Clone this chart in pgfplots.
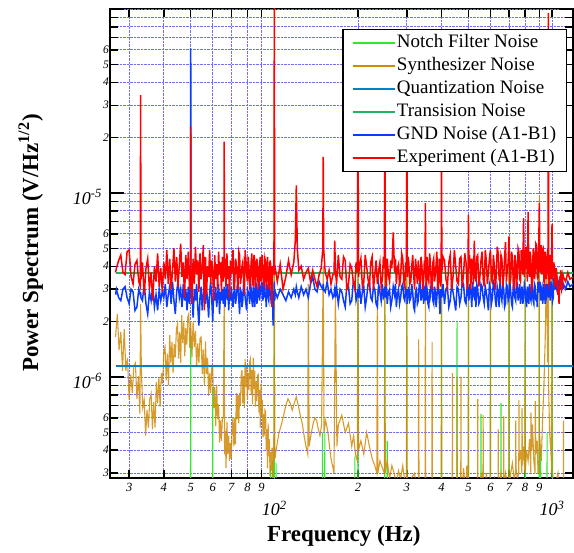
\documentclass[border=0pt]{standalone}
\usepackage{fontspec}
\setmainfont{Liberation Serif}
\usepackage{pgfplots}
\usepackage{pgfplotstable}
\pgfplotsset{compat=1.18}

\definecolor{notchc}{RGB}{50,230,50}
\definecolor{synthc}{RGB}{208,138,8}
\definecolor{quantc}{RGB}{0,130,200}
\definecolor{transc}{RGB}{30,180,100}
\definecolor{gndc}{RGB}{10,60,255}
\definecolor{expc}{RGB}{255,0,0}
\definecolor{gridc}{RGB}{110,110,255}

% values in units of 1e-6 V/Hz^(1/2)
\pgfplotstableread{
f r b
26.8 3.7 2.8
27.0 3.9 3.0
27.5 4.3 2.7
28.0 4.6 2.6
28.5 3.7 3.0
29.0 3.6 3.1
29.5 4.8 2.7
30.0 4.9 2.5
30.5 3.5 3.0
31.0 3.2 2.9
31.5 4.1 2.3
32.0 4.3 2.4
32.5 3.3 3.0
32.9 3.1 2.8
33.0 34 2.9
33.1 3.4 2.7
33.5 4.2 2.6
34.0 2.8 3.2
34.5 3.9 2.5
35.0 4.4 2.2
35.5 3.0 2.9
36.0 3.7 2.6
36.5 2.6 3.1
37.0 4.0 2.4
37.5 3.3 2.8
38.0 4.7 2.3
38.5 3.1 3.0
39.0 3.9 2.6
39.5 2.9 2.9
40.0 4.2 2.7
40.5 3.4 3.2
41.0 4.9 2.4
41.5 3.2 2.8
42.0 4.4 3.1
42.5 3.0 2.5
43.0 3.8 3.3
43.5 5.0 2.6
44.0 3.3 2.2
44.5 4.5 2.9
45.0 3.1 3.3
45.5 4.1 2.7
46.0 5.3 3.0
46.5 3.5 2.4
47.0 4.2 3.2
47.5 2.7 2.6
48.0 4.6 3.0
48.5 3.4 2.3
49.0 4.8 3.1
49.5 3.0 2.5
49.9 3.6 3.0
50.0 23 61
50.1 3.9 2.7
50.5 2.5 2.9
51.0 4.4 2.1
51.5 3.2 3.0
52.0 5.1 2.6
52.5 3.6 3.2
53.0 4.3 2.4
53.5 2.9 1.9
54.0 4.7 2.7
54.5 3.4 3.1
55.0 3.9 2.3
55.5 5.2 2.8
56.0 2.3 3.2
56.5 4.5 2.5
57.0 2.8 3.0
57.5 4.0 2.6
58.0 3.5 2.1
58.5 4.9 2.9
59.0 3.2 3.3
59.5 4.3 2.7
60.0 3.7 2.0
60.5 2.6 2.9
61.0 4.6 2.6
61.5 3.4 3.1
62.0 4.1 2.4
62.5 3.0 2.8
63.0 4.8 3.2
63.5 3.6 2.2
64.0 4.2 2.9
64.5 2.9 2.6
65.0 4.5 3.0
65.5 3.3 2.5
65.9 3.8 2.8
66.0 19 3.1
66.1 3.5 2.7
66.5 4.4 2.4
67.0 3.1 3.0
67.5 4.7 2.8
68.0 3.4 3.2
68.5 4.0 2.3
69.0 2.7 2.9
69.5 4.3 2.6
70.0 3.6 3.1
70.5 4.0 2.7
71.0 4.9 2.4
71.5 3.0 2.9
72.0 3.2 3.0
72.5 4.4 2.5
73.0 4.1 2.7
73.5 3.5 3.1
74.0 3.0 3.3
74.5 4.8 2.6
75.0 4.6 2.2
75.5 3.2 3.0
76.0 3.5 2.9
76.5 4.0 2.4
77.0 4.2 2.6
77.5 3.4 3.2
78.0 2.8 3.1
78.5 4.9 2.7
79.0 4.4 2.5
79.5 3.6 2.3
80.0 3.3 3.0
80.5 4.5 2.9
81.0 4.0 2.8
81.5 3.0 2.5
82.0 3.4 3.4
82.5 4.2 3.0
83.0 4.7 2.6
83.5 3.3 2.4
84.0 3.1 3.1
84.5 4.6 2.8
85.0 4.3 2.4
85.5 3.1 3.3
86.0 3.6 3.2
86.5 4.4 2.5
87.0 4.0 2.7
87.5 3.0 3.0
88.0 3.2 3.4
88.5 4.1 2.6
89.0 4.5 2.9
89.5 3.3 3.1
90.0 3.5 3.3
90.5 4.6 2.8
91.0 3.9 2.6
91.5 3.1 3.4
92.0 3.3 3.5
92.5 4.4 2.7
93.0 4.2 2.9
93.5 3.0 2.4
94.0 3.4 3.2
94.5 4.5 3.0
95.0 3.8 2.7
95.5 3.2 2.6
96.0 3.0 3.4
96.5 4.3 2.9
97.0 4.1 2.8
97.5 3.3 2.5
98.0 2.4 3.1
98.5 4.0 2.8
99.0 3.7 1.9
99.7 4.0 2.9
100.0 110 3.3
100.3 3.6 2.6
100.8 3.9 2.9
102.5 3.3 2.7
105.0 4.1 3.0
107.5 3.0 2.8
110.0 3.5 2.6
112.5 4.3 2.9
115.0 3.6 2.7
117.5 4.2 3.0
119.0 5.5 2.8
120.0 11 3.1
121.0 5.0 2.9
122.5 3.8 2.7
125.0 4.0 3.1
127.5 3.4 2.8
130.0 3.7 3.0
132.5 3.9 2.7
135.0 3.3 3.2
137.5 3.8 3.5
140.0 3.4 3.0
142.5 3.1 2.9
145.0 3.6 3.3
147.5 3.9 3.1
149.5 5.0 3.0
150.0 15.7 3.2
150.5 5.0 3.0
152.5 3.7 2.9
155.0 3.4 3.3
157.5 3.8 2.8
160.0 3.2 3.0
162.5 3.6 2.7
164.0 3.6 2.8
165.0 5.5 3.0
166.0 3.8 2.7
167.5 3.2 3.1
170 4.6 2.5
172.5 3.5 3.0
175 3.4 2.9
177.5 4.5 2.6
180 4.3 2.4
182.5 3.0 3.2
185 3.2 3.1
187.5 4.1 2.5
190 3.9 2.6
192.5 3.3 3.3
195 3.0 3.2
197 4.2 2.6
199 3.7 2.8
200 40 3.0
201 3.5 2.7
202.5 4.0 3.2
205 4.4 2.5
207.5 3.1 2.9
210 3.3 3.1
212.5 4.6 2.4
215 4.0 2.7
217.5 3.4 3.2
220 3.1 3.3
222.5 4.2 2.7
225 4.5 2.6
227.5 3.0 3.1
230 3.6 3.0
232.5 4.3 2.5
235 3.2 2.4
237.5 3.8 3.2
240 4.2 2.9
242.5 3.1 2.6
245 3.4 3.2
247 4.5 2.7
249 3.9 2.8
250 40 3.1
251 3.6 2.7
253 3.1 3.2
255 4.4 2.5
257.5 3.6 2.9
260 3.3 3.0
262.5 4.3 2.4
265 3.9 2.6
268 6.1 3.1
271 3.7 2.8
273 4.4 3.2
275 3.2 2.4
277.5 3.9 2.8
280 4.1 3.0
282.5 3.1 2.5
285 3.5 2.7
287.5 4.7 3.1
290 4.4 3.2
292.5 3.3 2.7
295 3.1 2.6
297 4.2 3.0
299 3.8 2.9
300 40 3.0
301 3.5 2.5
303 4.5 2.8
305 4.2 3.1
307.5 3.2 2.6
310 3.3 2.7
312.5 4.0 3.2
315 4.6 2.9
317.5 3.6 2.4
320 3.0 2.3
322.5 4.4 2.9
325 3.8 3.0
327.5 3.2 2.5
330 4.3 2.6
332.5 3.5 3.2
335 3.2 3.3
337.5 4.5 2.6
340 4.0 2.8
342.5 3.0 3.1
345 3.4 2.5
347 4.3 3.0
349 3.9 3.1
350 8.8 2.9
351 3.6 2.6
353 3.1 3.2
355 4.5 3.0
357.5 3.5 2.5
360 3.3 2.4
362.5 4.7 3.0
365 4.1 2.8
367.5 3.2 3.3
370 3.0 3.2
372.5 4.2 2.6
375 4.4 2.5
377.5 3.3 3.1
380 3.6 2.9
382.5 4.1 2.4
385 4.8 2.7
387.5 3.0 3.2
390 3.2 3.1
392.5 4.4 2.7
395 4.0 2.2
397 3.1 3.0
399 3.4 2.8
400 40 3.0
401 3.7 2.7
405 4.5 3.2
410 4.3 2.5
415 3.4 3.0
420 3.1 3.1
425 4.2 2.4
430 4.6 2.6
435 3.0 3.2
440 3.5 2.9
445 4.9 2.6
450 4.0 2.3
455 3.3 3.1
460 3.2 3.0
465 4.4 2.5
470 4.5 2.7
475 3.1 3.3
480 3.6 3.2
485 4.7 2.6
490 4.2 2.5
495 3.0 3.1
498 3.4 2.9
500 7.6 3.1
502 3.9 2.6
505 4.6 3.2
510 3.0 2.9
514 4.4 2.4
518 4.1 3.3
521 3.2 2.8
525 5.5 2.7
528 3.6 3.1
532 3.3 2.4
536 4.5 3.2
540 4.6 3.0
545 3.1 2.5
550 3.5 2.6
555 4.3 3.2
560 4.8 3.1
565 3.4 2.7
570 3.1 2.5
575 4.9 3.1
580 4.3 2.9
585 3.2 2.6
590 3.7 2.3
595 4.4 3.2
600 4.9 3.0
605 3.5 2.5
610 3.2 2.7
615 4.6 3.3
620 4.0 3.2
625 3.0 2.6
630 3.6 2.4
635 5.1 3.1
640 4.7 2.9
645 3.4 2.4
650 3.3 3.3
655 4.6 2.8
660 4.4 2.6
665 3.1 3.2
670 3.5 3.0
675 4.5 2.4
680 5.4 2.5
685 3.3 3.2
690 3.8 3.1
695 4.2 2.6
700 5.8 2.7
705 3.2 3.3
710 3.4 2.9
715 4.8 2.5
720 4.5 2.4
725 3.3 3.1
730 3.0 3.0
735 4.6 2.7
740 4.2 2.6
745 3.1 3.3
750 3.6 3.2
755 5.0 2.6
760 4.8 2.8
765 3.4 3.2
770 3.3 2.5
775 4.9 2.9
780 4.4 3.1
785 3.6 2.5
790 7.3 2.7
795 3.5 3.2
800 3.9 3.0
805 5.1 2.6
810 4.6 2.4
815 3.3 3.1
820 7.9 2.9
825 3.8 2.5
830 3.5 3.2
835 4.8 2.7
840 4.2 2.6
845 3.0 3.3
850 3.1 3.0
855 5.0 2.6
860 4.7 2.5
865 3.4 3.2
870 3.8 3.1
875 5.3 2.6
880 5.2 2.8
885 3.5 2.4
890 3.4 3.3
895 4.6 2.9
900 8.8 2.9
905 3.7 3.3
910 4.1 2.6
915 5.2 3.0
920 3.6 3.1
925 4.9 2.5
930 5.0 2.7
935 3.3 3.2
940 3.2 2.9
945 4.8 2.5
950 4.5 3.2
955 3.4 2.7
960 3.7 2.8
965 5.0 3.2
968 4.2 3.0
970 95 3.1
972 4.0 2.7
976 3.2 3.2
980 3.3 3.3
985 4.6 2.6
990 4.4 2.9
995 3.4 3.3
1000 6.8 3.0
1005 3.5 2.6
1010 3.6 2.7
1015 4.2 3.3
1020 3.9 3.2
1025 3.1 3.0
1030 3.3 3.4
1035 3.9 3.1
1040 3.7 3.0
1045 3.2 3.4
1050 2.8 3.3
1055 3.0 3.0
1060 2.5 3.1
1065 3.3 3.4
1070 3.2 3.4
1075 3.8 3.0
1080 3.6 3.0
1085 3.0 3.3
1090 3.1 3.3
1095 3.6 3.0
1100 3.5 3.2
1120 3.3 3.0
1140 3.7 3.3
1160 3.4 3.1
1190 3.5 3.2
}\expdata

\pgfplotstableread{
f s
26.8 1.65
27.2 2.2
27.6 1.4
28.0 1.76
28.4 1.08
28.8 1.82
29.2 1.08
29.6 1.27
30.0 0.75
30.4 1.03
30.8 0.82
31.2 1.14
31.6 1.19
32.0 0.76
32.4 1.01
32.8 0.63
33.0 2.5
33.2 1.09
33.6 0.68
34.0 0.75
34.4 0.48
34.8 0.66
35.2 0.53
35.6 0.76
36.0 0.81
36.4 0.52
36.8 0.73
37.2 0.53
37.6 0.94
38.0 0.72
38.4 0.99
38.8 0.69
39.2 1.05
39.6 0.92
40.0 1.38
40.4 1.46
40.8 0.96
41.2 1.34
41.6 0.9
42.0 1.69
42.4 1.19
42.8 1.55
43.2 1.05
43.6 1.51
44.0 1.28
44.4 1.82
44.8 1.94
45.2 1.26
45.6 1.76
46.0 1.19
46.4 2.17
46.8 1.53
47.2 1.98
47.6 1.3
48.0 1.84
48.4 1.5
48.8 2.12
49.2 2.2
49.6 1.44
50.0 1.98
50.5 1.28
51.0 2.0
51.5 1.46
52.0 1.78
52.5 1.13
53.0 1.52
53.5 1.19
54.0 1.62
54.5 1.65
55.0 1.04
55.5 1.41
56.0 0.9
56.5 1.56
57.0 1.04
57.5 1.27
58.0 0.79
58.5 1.05
59.0 0.82
59.5 1.12
60.0 1.13
60.5 0.68
61.0 0.88
61.5 0.54
62.0 0.91
62.5 0.59
63.0 0.71
63.5 0.44
64.0 0.58
64.5 0.45
65.0 0.6
65.5 0.6
66.0 2.8
66.2 0.38
66.6 0.51
67.0 0.32
67.5 0.57
68.0 0.38
68.5 0.48
69.0 0.35
69.5 0.44
70.0 0.36
70.5 0.54
71.0 0.6
71.5 0.42
72.0 0.6
72.5 0.43
73.0 0.82
73.5 0.59
74.0 0.8
74.5 0.56
75.0 0.82
75.5 0.7
76.0 1.02
76.5 1.09
77.0 0.72
77.5 1.01
78.0 0.68
78.5 1.25
79.0 0.88
79.5 1.14
80.0 0.75
80.5 1.05
81.0 0.85
81.5 1.2
82.0 1.25
82.5 0.8
83.0 1.09
83.5 0.71
84.0 1.27
84.5 0.86
85.0 1.08
85.5 0.69
86.0 0.95
86.5 0.74
87.0 1.02
87.5 1.03
88.0 0.64
88.5 0.85
89.0 0.53
89.5 0.92
90.0 0.61
90.5 0.75
91.0 0.47
91.5 0.63
92.0 0.48
92.5 0.66
93.0 0.65
93.5 0.4
94.0 0.52
94.5 0.32
95.0 0.56
95.5 0.37
96.0 0.46
96.5 0.29
97.0 0.39
97.5 0.31
98.0 0.41
98.5 0.41
99.0 0.26
99.5 0.35
100.0 4.0
100.5 0.36
102 0.42
104 0.5
106 0.55
108 0.62
110 0.7
112 0.76
114 0.72
116 0.66
118 0.72
120 0.78
122 0.7
124 0.62
126 0.56
128 0.48
130 0.42
132 0.38
132.5 3.2
133.5 0.42
136 0.5
138 0.56
140 0.6
142 0.58
144 0.52
146 0.48
148 0.55
150 4.0
151 0.5
153 0.58
156 0.5
158 0.42
160 0.36
162 0.33
164 0.3
166 3.0
168 0.42
170 0.55
175 0.62
180 0.5
185 0.56
190 0.42
193 0.48
196 0.38
199 0.35
200 4.0
201 0.4
205 0.45
210 0.38
215 0.5
220 0.42
225 0.36
230 0.33
234 0.3
235 3.0
236 0.3
240 0.35
245 0.32
249 0.3
250 4.0
251 0.3
255 0.35
260 0.28
265 0.33
270 0.3
275 0.26
280 0.31
285 0.28
290 0.33
295 0.27
299 0.25
300 4.0
301 0.25
310 0.28
320 0.3
325 0.25
330 0.22
331 1.6
332 0.22
340 0.26
349 0.2
350 3.5
351 0.2
360 0.22
369 0.2
370 1.55
371 0.2
380 0.2
399 0.2
400 4.0
401 0.2
410 0.26
420 0.2
437 0.2
438 1.05
439 0.2
454 0.2
455 1.0
456 0.2
469 0.2
470 1.0
471 0.2
480 0.32
490 0.22
493 0.33
496 0.2
499 0.2
500 4.0
501 0.2
520 0.22
539 0.2
540 0.76
541 0.2
550 0.28
560 0.3
564 0.2
565 0.62
566 0.2
580 0.3
590 0.22
599 0.2
600 4.0
601 0.2
620 0.28
630 0.24
639 0.2
640 0.52
641 0.25
655 0.3
669 0.2
670 0.61
671 0.25
680 0.3
690 0.26
699 0.2
700 4.0
701 0.22
710 0.3
720 0.34
730 0.28
739 0.3
740 0.58
742 0.32
750 0.28
759 0.3
760 0.75
762 0.35
770 0.4
779 0.3
780 0.68
782 0.33
790 0.42
799 0.3
800 4.0
801 0.3
810 0.4
820 0.35
830 0.46
839 0.3
840 0.64
845 0.4
850 0.55
860 0.35
869 0.3
870 0.74
875 0.38
885 0.45
890 0.3
899 0.3
900 9.7
901 0.5
915 0.35
925 0.6
935 0.9
945 1.6
950 2.5
955 3.5
960 2.0
965 1.2
968 1.6
970 5.0
972 0.9
980 0.5
990 0.4
994 0.35
995 0.94
996 0.3
999 0.3
1000 4.0
1001 0.3
1020 0.25
1050 0.3
1060 0.22
1090 0.25
1099 0.2
1100 0.58
1101 0.2
1190 0.2
}\synthdata

\pgfplotstableread{
f n
26.8 0.2
49.9 0.2
50.0 1.65
50.1 0.2
59.9 0.2
60.0 0.88
60.1 0.2
96.9 0.2
97.0 0.33
97.1 0.2
98.4 0.2
98.5 0.35
98.6 0.2
99.9 0.2
100 120
100.1 0.2
101.4 0.2
101.5 0.34
101.6 0.2
148.9 0.2
149 0.5
149.1 0.2
151.9 0.2
152 0.5
152.1 0.2
194.9 0.2
195 0.37
195.1 0.2
199.8 0.2
200 4.0
200.2 0.2
249.8 0.2
250 4.0
250.2 0.2
254.8 0.2
255 0.45
255.2 0.2
299.7 0.2
300 4.0
300.3 0.2
399.6 0.2
400 4.0
400.4 0.2
454.5 0.2
455 2.0
455.5 0.2
499.5 0.2
500 4.0
500.5 0.2
554.5 0.2
555 0.63
555.5 0.2
599.4 0.2
600 4.0
600.6 0.2
654.4 0.2
655 0.72
655.6 0.2
699.3 0.2
700 4.0
700.7 0.2
799.2 0.2
800 4.0
800.8 0.2
899.1 0.2
900 4.0
900.9 0.2
909 0.2
910 0.4
911 0.2
959 0.2
960 0.5
961 0.2
999 0.2
1000 4.0
1001 0.2
1004 0.2
1005 0.56
1006 0.2
1190 0.2
}\notchdata

\begin{document}
\begin{tikzpicture}
\useasboundingbox (-110pt,-75pt) rectangle (464pt,478pt);
\begin{axis}[
  at={(0pt,0pt)}, anchor=south west,
  scale only axis, width=463pt, height=469pt,
  xmode=log, ymode=log,
  xmin=25.6, xmax=1190,
  ymin=0.2825, ymax=100,
  axis line style={line width=1.5pt},
  tick style={black, line width=1.4pt},
  major tick length=8pt,
  minor xtick={}, minor ytick={},
  grid=major,
  grid style={densely dotted, gridc, line width=0.8pt},
  xtick={30,40,50,60,70,80,90,200,300,400,500,600,700,800,900},
  xticklabels={3,4,5,6,7,8,9,2,3,4,5,6,7,8,9},
  extra x ticks={100,1000},
  extra x tick labels={10\textsuperscript{2},10\textsuperscript{3}},
  extra x tick style={grid=major, xticklabel style={font=\fontsize{18}{18}\selectfont\itshape, yshift=-18pt}},
  ytick={0.3,0.4,0.5,0.6,0.7,0.8,0.9,2,3,4,5,6,7,8,9,20,30,40,50,60,70,80,90},
  yticklabels={3,4,5,6,{},{},{},2,3,4,5,6,{},{},{},2,3,4,5,6,{},{},{}},
  extra y ticks={1,10,100},
  extra y tick labels={10\textsuperscript{-6},10\textsuperscript{-5},{}},
  extra y tick style={grid=major, major tick length=14pt, yticklabel style={font=\fontsize{18}{18}\selectfont\itshape, xshift=-7pt, yshift=-4pt}},
  xticklabel style={font=\fontsize{12.5}{12.5}\selectfont\itshape, inner sep=1pt, yshift=-4pt},
  yticklabel style={font=\fontsize{11.5}{11.5}\selectfont\itshape, inner sep=1pt},
  xlabel={Frequency (Hz)},
  ylabel={Power Spectrum (V/Hz\textsuperscript{1/2})},
  every axis x label/.style={at={(axis description cs:0.505,-0.124)}, anchor=center, font=\fontsize{23}{23}\selectfont\bfseries},
  every axis y label/.style={at={(axis description cs:-0.171,0.501)}, rotate=90, anchor=center, font=\fontsize{23}{23}\selectfont\bfseries},
  legend cell align=left,
  legend style={at={(axis description cs:0.987,0.957)}, anchor=north east, draw=black, line width=1.3pt, fill=white,
    font=\fontsize{19}{19}\selectfont, inner xsep=9pt, inner ysep=3pt, row sep=2.5pt,
    nodes={inner sep=1pt, text depth=4.5pt, text height=14pt}},
  legend image code/.code={\draw[#1, line width=2pt, opacity=1] (0pt,0pt) -- (42pt,0pt);},
]
\addplot[notchc, line width=1.1pt] table[x=f, y=n] {\notchdata};
\addlegendentry{Notch Filter Noise}
\addplot[synthc, line width=1.1pt, opacity=0.85] table[x=f, y=s] {\synthdata};
\addlegendentry{Synthesizer Noise}
\addplot[quantc, line width=1.6pt] coordinates {(26.8,1.15) (1190,1.15)};
\addlegendentry{Quantization Noise}
\addplot[transc, line width=1.8pt] coordinates {(26.8,3.67) (1190,3.67)};
\addlegendentry{Transision Noise}
\addplot[gndc, line width=1.5pt] table[x=f, y=b] {\expdata};
\addlegendentry{GND Noise (A1-B1)}
\addplot[expc, line width=1.5pt] table[x=f, y=r] {\expdata};
\addlegendentry{Experiment (A1-B1)}
\end{axis}
\end{tikzpicture}
\end{document}
